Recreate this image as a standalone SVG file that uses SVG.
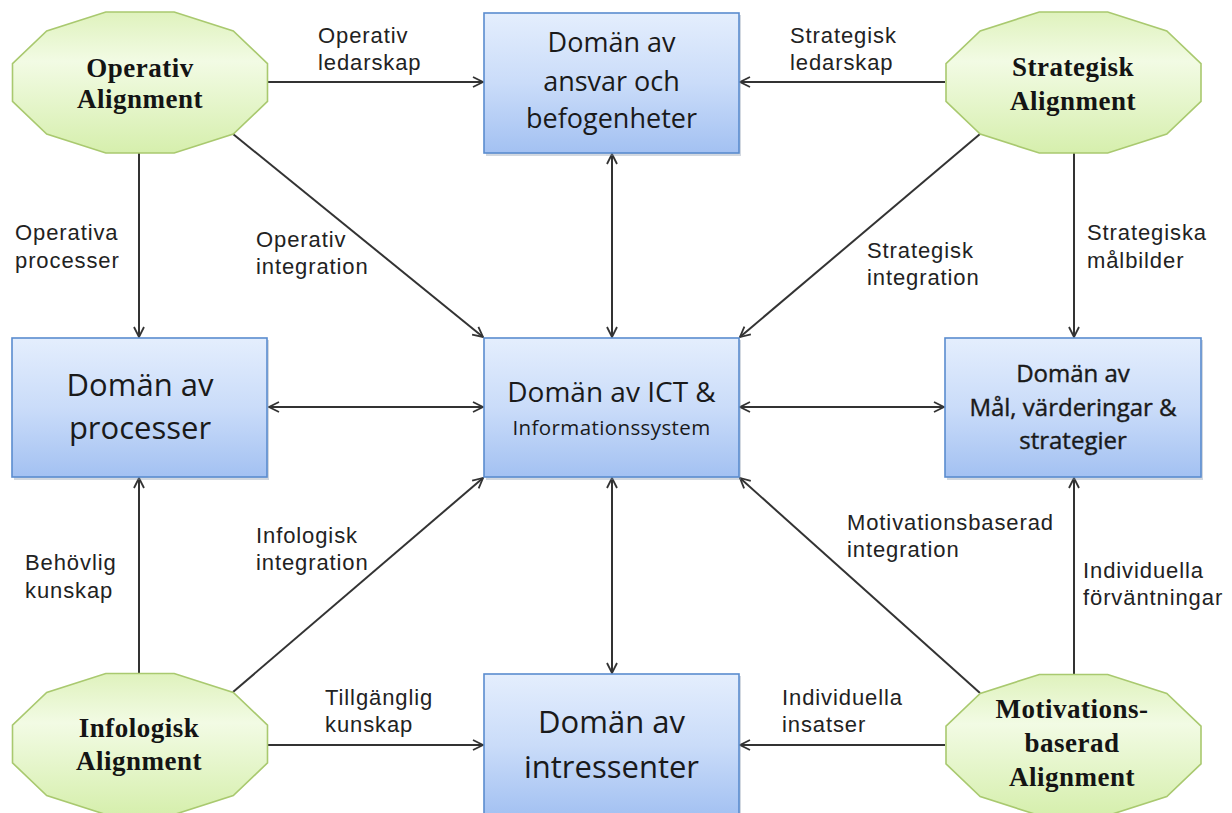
<svg xmlns="http://www.w3.org/2000/svg" xmlns:xlink="http://www.w3.org/1999/xlink" width="1232" height="813" viewBox="0 0 1232 813">
  <style>
    .box { fill: url(#boxFill); stroke: #5a8ccf; stroke-width: 1.6; }
    .shadow { fill: #7f8fa6; opacity: 0.35; }
    .oct { fill: url(#octFill); stroke: #a9c96f; stroke-width: 1.6; }
    .btext { font-family: "Open Sans", "Liberation Sans", sans-serif; fill: #1a1a1a; text-anchor: middle; }
    .otext { font-family: "Liberation Serif", "Times New Roman", serif; font-weight: bold; font-size: 27px; fill: #141414; text-anchor: middle; letter-spacing: 0.5px; }
    .label { font-family: "Liberation Sans", Arial, sans-serif; font-size: 22px; fill: #222; letter-spacing: 0.9px; }
    .conn { stroke: #333; stroke-width: 2; fill: none; }
    .one { marker-end: url(#arrow); }
    .two { marker-start: url(#arrowStart); marker-end: url(#arrow); }
  </style>
  <defs>
    <linearGradient id="boxFill" x1="0" y1="0" x2="0" y2="1">
      <stop offset="0" stop-color="#e4eefd"/>
      <stop offset="0.5" stop-color="#cadcf9"/>
      <stop offset="1" stop-color="#a3c1f2"/>
    </linearGradient>
    <linearGradient id="octFill" x1="0" y1="0" x2="0" y2="1">
      <stop offset="0" stop-color="#dff2bd"/>
      <stop offset="0.35" stop-color="#f2fbe4"/>
      <stop offset="1" stop-color="#d6efad"/>
    </linearGradient>
    <!-- twelve-sided badge, centred on the origin -->
    <polygon id="dodeca" points="-34.2,-70.5 34.2,-70.5 93.3,-51.6 127.5,-18.9 127.5,18.9 93.3,51.6 34.2,70.5 -34.2,70.5 -93.3,51.6 -127.5,18.9 -127.5,-18.9 -93.3,-51.6"/>
    <marker id="arrow" viewBox="0 0 12 12" refX="11" refY="6" markerWidth="12" markerHeight="12" markerUnits="userSpaceOnUse" orient="auto">
      <path d="M1,1 L11,6 L1,11" fill="none" stroke="#333" stroke-width="1.8"/>
    </marker>
    <marker id="arrowStart" viewBox="0 0 12 12" refX="1" refY="6" markerWidth="12" markerHeight="12" markerUnits="userSpaceOnUse" orient="auto">
      <path d="M11,1 L1,6 L11,11" fill="none" stroke="#333" stroke-width="1.8"/>
    </marker>
  </defs>

  <rect width="1232" height="813" fill="#ffffff"/>

  <!-- connectors -->
  <g id="connectors">
    <line class="conn one" x1="268" y1="82" x2="483" y2="82"/>
    <line class="conn one" x1="945" y1="82" x2="740" y2="82"/>
    <line class="conn one" x1="139" y1="153" x2="139" y2="337"/>
    <line class="conn one" x1="233" y1="134" x2="483" y2="337"/>
    <line class="conn two" x1="612" y1="154" x2="612" y2="337"/>
    <line class="conn one" x1="980" y1="134" x2="740" y2="337"/>
    <line class="conn one" x1="1074" y1="153" x2="1074" y2="337"/>
    <line class="conn two" x1="269" y1="407" x2="483" y2="407"/>
    <line class="conn two" x1="740" y1="407" x2="944" y2="407"/>
    <line class="conn one" x1="139" y1="673" x2="139" y2="478"/>
    <line class="conn one" x1="233" y1="692" x2="483" y2="478"/>
    <line class="conn two" x1="612" y1="478" x2="612" y2="673"/>
    <line class="conn one" x1="980" y1="693" x2="740" y2="478"/>
    <line class="conn one" x1="1074" y1="674" x2="1074" y2="478"/>
    <line class="conn one" x1="268" y1="745" x2="483" y2="745"/>
    <line class="conn one" x1="945" y1="745" x2="740" y2="745"/>
  </g>

  <!-- connector labels -->
  <g id="labels">
    <text class="label" x="318" y="43">Operativ</text>
    <text class="label" x="318" y="70">ledarskap</text>
    <text class="label" x="790" y="43">Strategisk</text>
    <text class="label" x="790" y="70">ledarskap</text>
    <text class="label" x="15" y="240">Operativa</text>
    <text class="label" x="15" y="268">processer</text>
    <text class="label" x="256" y="247">Operativ</text>
    <text class="label" x="256" y="274">integration</text>
    <text class="label" x="867" y="258">Strategisk</text>
    <text class="label" x="867" y="285">integration</text>
    <text class="label" x="1087" y="240">Strategiska</text>
    <text class="label" x="1087" y="268">målbilder</text>
    <text class="label" x="25" y="570">Behövlig</text>
    <text class="label" x="25" y="598">kunskap</text>
    <text class="label" x="256" y="543">Infologisk</text>
    <text class="label" x="256" y="570">integration</text>
    <text class="label" x="847" y="530">Motivationsbaserad</text>
    <text class="label" x="847" y="557">integration</text>
    <text class="label" x="1083" y="578">Individuella</text>
    <text class="label" x="1083" y="605">förväntningar</text>
    <text class="label" x="325" y="705">Tillgänglig</text>
    <text class="label" x="325" y="732">kunskap</text>
    <text class="label" x="782" y="705">Individuella</text>
    <text class="label" x="782" y="732">insatser</text>
  </g>

  <!-- domain boxes -->
  <g id="box-ansvar">
    <rect class="shadow" x="486" y="15" width="255" height="141"/>
    <rect class="box" x="484" y="13" width="255" height="140"/>
    <text class="btext" font-size="27" x="611.5" y="52">Domän av</text>
    <text class="btext" font-size="27" x="611.5" y="91">ansvar och</text>
    <text class="btext" font-size="27" x="611.5" y="128">befogenheter</text>
  </g>
  <g id="box-processer">
    <rect class="shadow" x="14" y="340" width="255" height="140"/>
    <rect class="box" x="12" y="338" width="255" height="139"/>
    <text class="btext" font-size="31" x="140" y="396">Domän av</text>
    <text class="btext" font-size="31" x="140" y="439">processer</text>
  </g>
  <g id="box-ict">
    <rect class="shadow" x="486" y="340" width="255" height="140"/>
    <rect class="box" x="484" y="338" width="255" height="139"/>
    <text class="btext" font-size="28" x="611.5" y="402">Domän av ICT &amp;</text>
    <text class="btext" font-size="20.5" x="611.5" y="435" letter-spacing="0.4">Informationssystem</text>
  </g>
  <g id="box-mal">
    <rect class="shadow" x="947" y="340" width="256" height="140"/>
    <rect class="box" x="945" y="338" width="256" height="139"/>
    <text class="btext" font-size="24" x="1073" y="382" stroke="#1a1a1a" stroke-width="0.4">Domän av</text>
    <text class="btext" font-size="24" x="1073" y="416" stroke="#1a1a1a" stroke-width="0.4">Mål, värderingar &amp;</text>
    <text class="btext" font-size="24" x="1073" y="449" stroke="#1a1a1a" stroke-width="0.4">strategier</text>
  </g>
  <g id="box-intressenter">
    <rect class="shadow" x="486" y="676" width="255" height="142"/>
    <rect class="box" x="484" y="674" width="255" height="142"/>
    <text class="btext" font-size="31" x="611.5" y="733">Domän av</text>
    <text class="btext" font-size="31" x="611.5" y="778">intressenter</text>
  </g>

  <!-- alignment badges -->
  <g id="oct-operativ">
    <use xlink:href="#dodeca" href="#dodeca" class="oct" transform="translate(140 82.5)"/>
    <text class="otext" x="140" y="77">Operativ</text>
    <text class="otext" x="140" y="108">Alignment</text>
  </g>
  <g id="oct-strategisk">
    <use xlink:href="#dodeca" href="#dodeca" class="oct" transform="translate(1073.5 82.5)"/>
    <text class="otext" x="1073" y="76">Strategisk</text>
    <text class="otext" x="1073" y="110">Alignment</text>
  </g>
  <g id="oct-infologisk">
    <use xlink:href="#dodeca" href="#dodeca" class="oct" transform="translate(140 744)"/>
    <text class="otext" x="139" y="737">Infologisk</text>
    <text class="otext" x="139" y="770">Alignment</text>
  </g>
  <g id="oct-motivation">
    <use xlink:href="#dodeca" href="#dodeca" class="oct" transform="translate(1073.5 745)"/>
    <text class="otext" x="1072" y="718">Motivations-</text>
    <text class="otext" x="1072" y="752">baserad</text>
    <text class="otext" x="1072" y="786">Alignment</text>
  </g>
</svg>
